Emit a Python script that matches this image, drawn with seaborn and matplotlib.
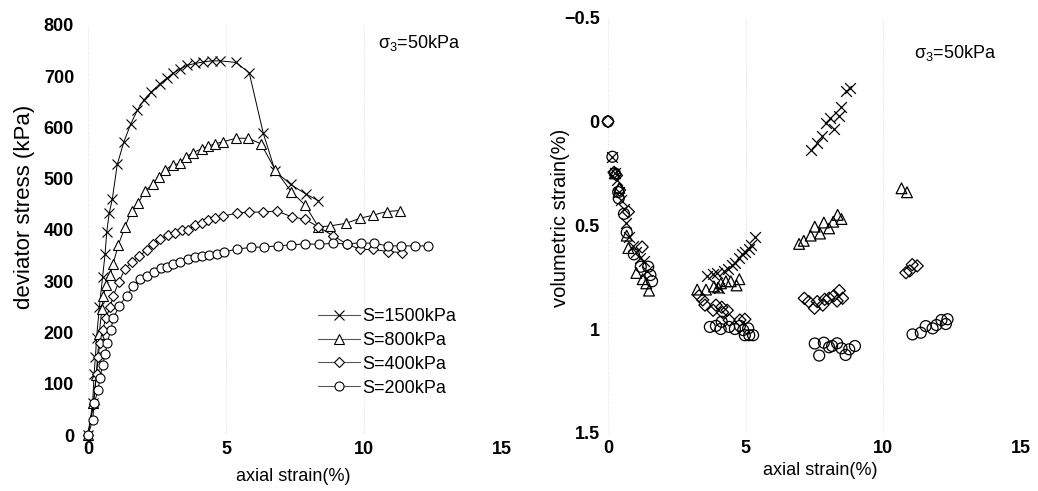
import matplotlib
matplotlib.use("Agg")
import matplotlib.pyplot as plt
import seaborn as sns

sns.set_theme(style="white")
plt.rcParams["font.family"] = ["Liberation Sans", "DejaVu Sans"]
plt.rcParams["mathtext.fontset"] = "custom"
plt.rcParams["mathtext.rm"] = "Liberation Sans"
plt.rcParams["mathtext.it"] = "Liberation Sans"
for key in ("text.color", "axes.labelcolor", "xtick.color", "ytick.color"):
    plt.rcParams[key] = "black"

# ---------------- data: deviator stress vs axial strain ----------------
labels = ["S=1500kPa", "S=800kPa", "S=400kPa", "S=200kPa"]

q1500_strain = [0, 0.17, 0.22, 0.27, 0.31, 0.41, 0.53, 0.62, 0.68, 0.77, 0.88, 1.06, 1.3, 1.55,
                1.79, 2.03, 2.3, 2.6, 2.85, 3.09, 3.33, 3.58, 3.88, 4.18, 4.48, 4.78, 5.36,
                5.84, 6.35, 6.78, 7.34, 7.9, 8.35]
q1500_q = [0, 62, 119, 153, 189, 249, 309, 354, 397, 433, 460, 528, 572, 607,
           634, 654, 670, 685, 696, 706, 714, 721, 725, 728, 730, 730, 727,
           707, 589, 515, 489, 470, 457]

q800_strain = [0, 0.19, 0.3, 0.41, 0.5, 0.56, 0.65, 0.8, 0.91, 1.1, 1.34, 1.58, 1.82, 2.07,
               2.34, 2.58, 2.79, 3.07, 3.33, 3.55, 3.82, 4.12, 4.36, 4.6, 4.88, 5.36, 5.81,
               6.27, 6.79, 7.36, 7.86, 8.35, 8.77, 9.35, 9.86, 10.34, 10.82, 11.3]
q800_q = [0, 62, 117, 198, 246, 271, 293, 312, 334, 371, 406, 438, 453, 476,
          489, 503, 517, 527, 530, 543, 551, 559, 564, 568, 572, 579, 579,
          568, 517, 475, 449, 406, 408, 413, 423, 429, 436, 438]

q400_strain = [0, 0.2, 0.31, 0.37, 0.43, 0.53, 0.65, 0.8, 0.92, 1.12, 1.34, 1.6, 1.86, 2.13,
               2.34, 2.61, 2.91, 3.15, 3.39, 3.63, 3.88, 4.12, 4.36, 4.6, 4.9, 5.39, 5.84,
               6.35, 6.83, 7.38, 7.86, 8.35, 8.87, 9.37, 9.86, 10.34, 10.86, 11.37]
q400_q = [0, 60, 120, 153, 180, 205, 228, 250, 272, 299, 324, 338, 349, 361,
          373, 382, 390, 395, 400, 400, 410, 414, 420, 423, 427, 433, 435,
          435, 437, 426, 421, 406, 389, 373, 362, 362, 358, 356]

q200_strain = [0, 0.17, 0.22, 0.37, 0.43, 0.53, 0.62, 0.7, 0.82, 0.92, 1.13, 1.4, 1.64, 1.87,
               2.13, 2.39, 2.63, 2.85, 3.09, 3.33, 3.61, 3.88, 4.12, 4.39, 4.66, 4.94, 5.41,
               5.91, 6.39, 6.87, 7.36, 7.86, 8.37, 8.87, 9.37, 9.88, 10.36, 10.86, 11.35,
               11.85, 12.33]
q200_q = [0, 29, 62, 88, 112, 136, 158, 180, 204, 228, 252, 272, 290, 304,
          311, 319, 325, 328, 334, 338, 343, 347, 349, 351, 353, 357, 363,
          366, 367, 369, 371, 373, 372, 374, 373, 375, 374, 369, 369,
          369, 369]

# ---------------- data: volumetric strain vs axial strain ----------------
v1500_strain = [0.16, 0.25, 0.34, 0.41, 0.48, 0.57, 0.64, 0.76, 0.92, 1.0, 1.16, 1.31, 1.4,
                3.6, 3.8, 3.97, 4.04, 4.21, 4.37, 4.49, 4.63, 4.75, 4.85, 4.97, 5.13, 5.19, 5.34,
                7.36, 7.6, 7.78, 7.92, 8.06, 8.22, 8.4, 8.48, 8.64, 8.78]
v1500_ev = [0.17, 0.25, 0.28, 0.34, 0.38, 0.42, 0.49, 0.555, 0.60, 0.63, 0.66, 0.67, 0.72,
            0.745, 0.735, 0.73, 0.80, 0.72, 0.71, 0.69, 0.68, 0.66, 0.64, 0.63, 0.615, 0.595, 0.555,
            0.137, 0.105, 0.07, 0.009, -0.015, 0.036, -0.026, -0.07, -0.148, -0.163]

v800_strain = [0.25, 0.41, 0.68, 0.74, 1.03, 1.26, 1.39, 1.49,
               3.24, 3.56, 3.85, 4.0, 4.1, 4.28, 4.46, 4.67, 4.77,
               6.94, 7.11, 7.36, 7.51, 7.7, 7.84, 8.03, 8.18, 8.34, 8.48,
               10.66, 10.86]
v800_ev = [0.25, 0.32, 0.55, 0.61, 0.73, 0.76, 0.78, 0.815,
           0.81, 0.81, 0.795, 0.80, 0.78, 0.77, 0.77, 0.79, 0.76,
           0.59, 0.575, 0.55, 0.507, 0.54, 0.487, 0.515, 0.483, 0.45, 0.47,
           0.322, 0.341]

v400_strain = [0, 0.22, 0.28, 0.42, 0.74, 1.24,
               3.31, 3.44, 3.52, 3.82, 3.92, 4.13, 4.16, 4.33, 4.4, 4.79, 4.97,
               7.13, 7.29, 7.5, 7.6, 7.8, 7.87, 8.03, 8.2, 8.4, 8.32, 8.52,
               10.82, 10.96, 11.05, 11.23]
v400_ev = [0, 0.245, 0.255, 0.33, 0.435, 0.605,
           0.84, 0.86, 0.885, 0.91, 0.885, 0.895, 0.92, 0.91, 0.957, 0.957, 0.953,
           0.852, 0.868, 0.90, 0.868, 0.885, 0.857, 0.852, 0.84, 0.815, 0.865, 0.852,
           0.729, 0.72, 0.69, 0.696]

v200_strain = [0, 0.16, 0.25, 0.37, 0.39, 0.58, 0.68, 0.94, 1.19, 1.46, 1.54, 1.6,
               3.7, 3.92, 4.09, 4.13, 4.4, 4.61, 4.79, 4.91, 5.09, 4.97, 5.13, 5.27,
               7.51, 7.67, 7.84, 8.03, 8.14, 8.32, 8.48, 8.63, 8.76, 8.97,
               11.06, 11.36, 11.54, 11.79, 11.93, 12.11, 12.27, 12.33]
v200_ev = [0, 0.17, 0.25, 0.34, 0.37, 0.445, 0.535, 0.64, 0.70, 0.70, 0.74, 0.77,
           0.99, 0.985, 1.0, 0.965, 0.99, 1.0, 0.985, 1.005, 0.997, 1.03, 1.03, 1.03,
           1.07, 1.128, 1.066, 1.088, 1.082, 1.069, 1.093, 1.125, 1.098, 1.082,
           1.026, 1.018, 0.986, 0.997, 0.981, 0.957, 0.976, 0.953]

x_ticks = [0, 5, 10, 15]
q_ticks = [0, 100, 200, 300, 400, 500, 600, 700, 800]
ev_ticks = [-0.5, 0, 0.5, 1, 1.5]
ev_tick_labels = ["\u22120.5", "0", "0.5", "1", "1.5"]

markers = ["x", "^", "D", "o"]
msizes = [7, 6.5, 5, 6.5]

W, H = 1038, 491
fig = plt.figure(figsize=(W / 100, H / 100), dpi=100)
axL = fig.add_axes([88 / W, (H - 435) / H, 414 / W, 410 / H])
axR = fig.add_axes([608 / W, (H - 432.75) / H, 413 / W, 415 / H])

tickfont = dict(fontsize=13, fontweight="bold")

# ---------- left panel ----------
q_series = [(q1500_strain, q1500_q), (q800_strain, q800_q),
            (q400_strain, q400_q), (q200_strain, q200_q)]
for (xs, ys), lab, mk, ms in zip(q_series, labels, markers, msizes):
    sns.lineplot(x=xs, y=ys, ax=axL, sort=False, color="black", linewidth=0.7,
                 marker=mk, markersize=ms, markerfacecolor="white",
                 markeredgecolor="black", markeredgewidth=0.8, label=lab,
                 clip_on=False, estimator=None)

axL.set_xlim(0, 15)
axL.set_ylim(0, 800)
axL.set_xticks(x_ticks)
axL.set_yticks(q_ticks)
axL.set_xticklabels([str(t) for t in x_ticks], **tickfont)
axL.set_yticklabels([str(t) for t in q_ticks], **tickfont)
axL.tick_params(axis="y", length=0, pad=10)
axL.tick_params(axis="x", length=0, pad=4)
axL.set_xlabel("axial strain(%)", fontsize=13)
axL.set_ylabel("deviator stress (kPa)", fontsize=16)
axL.xaxis.set_label_coords(0.495, -0.08)
axL.yaxis.set_label_coords(-0.128, 0.556)
axL.text(0.70, 0.955, r"$\sigma_3$=50kPa", transform=axL.transAxes,
         fontsize=13, ha="left", va="center")

leg = axL.legend(loc="upper left", bbox_to_anchor=(318 / W, 1 - 308 / H),
                 bbox_transform=fig.transFigure, frameon=False, fontsize=13,
                 handlelength=2.3, handletextpad=0.15, labelspacing=0.38,
                 borderpad=0, borderaxespad=0)
for h in leg.get_lines():
    h.set_color("#555555")
    h.set_linewidth(0.8)
    h.set_markeredgecolor("black")

# ---------- right panel ----------
v_series = [(v1500_strain, v1500_ev), (v800_strain, v800_ev),
            (v400_strain, v400_ev), (v200_strain, v200_ev)]
vsizes = [60, 60, 38, 62]
for (xs, ys), lab, mk, s in zip(v_series, labels, markers, vsizes):
    if mk == "x":
        sns.scatterplot(x=xs, y=ys, ax=axR, marker=mk, s=s, color="black",
                        linewidth=0.9, legend=False, clip_on=False)
    else:
        sns.scatterplot(x=xs, y=ys, ax=axR, marker=mk, s=s, facecolor="none",
                        edgecolor="black", linewidth=0.9, legend=False, clip_on=False)

axR.set_xlim(0, 15)
axR.set_ylim(1.5, -0.5)
axR.set_xticks(x_ticks)
axR.set_yticks(ev_ticks)
axR.set_xticklabels([str(t) for t in x_ticks], **tickfont)
axR.set_yticklabels(ev_tick_labels, **tickfont)
axR.tick_params(axis="y", length=0, pad=6)
axR.tick_params(axis="x", length=0, pad=5)
axR.set_xlabel("axial strain(%)", fontsize=13)
axR.set_ylabel("volumetric strain(%)", fontsize=14.5)
axR.xaxis.set_label_coords(0.513, -0.07)
axR.yaxis.set_label_coords(-0.092, 0.517)
axR.text(0.74, 0.915, r"$\sigma_3$=50kPa", transform=axR.transAxes,
         fontsize=13, ha="left", va="center")

for ax in (axL, axR):
    for sp in ax.spines.values():
        sp.set_visible(False)
    ax.grid(axis="x", color="#dddddd", linestyle=":", linewidth=0.7)
    ax.set_facecolor("white")

fig.savefig("out.png", dpi=100, facecolor="white")
